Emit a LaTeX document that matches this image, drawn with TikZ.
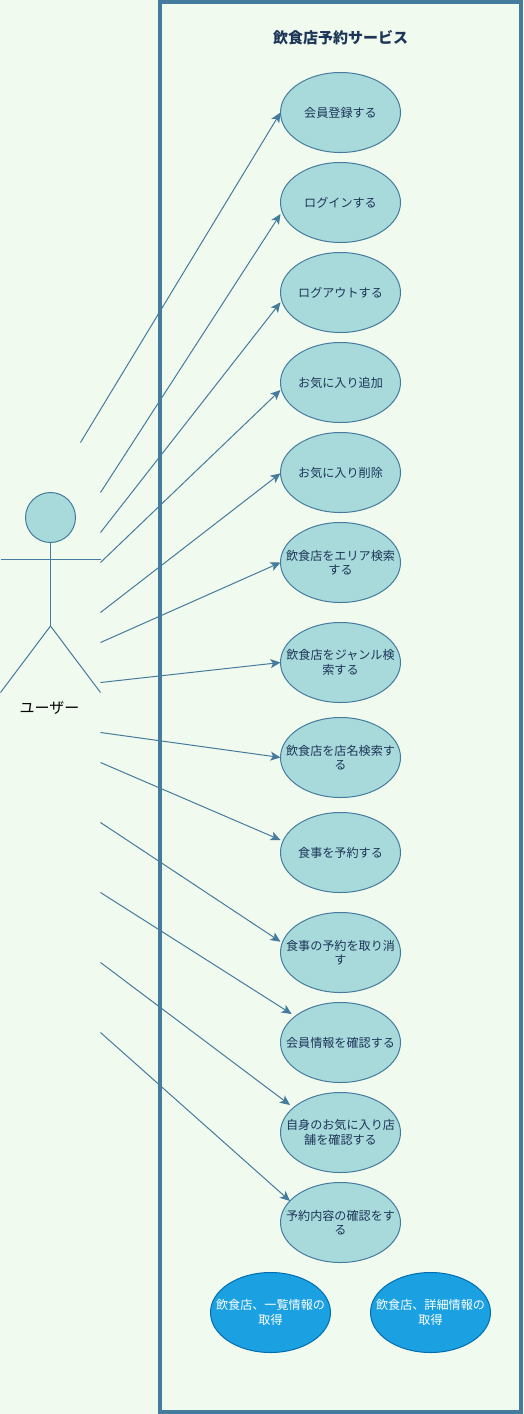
\documentclass[tikz,border=0pt]{standalone}
\usepackage{fontspec}
\setmainfont{Noto Sans CJK JP}
\usetikzlibrary{shapes.geometric,arrows.meta}
\definecolor{bgc}{HTML}{F1FAEE}
\definecolor{stk}{HTML}{457B9D}
\definecolor{fil}{HTML}{A8DADC}
\definecolor{txt}{HTML}{1D3557}
\definecolor{bfil}{HTML}{1BA1E2}
\definecolor{bstk}{HTML}{006EAF}
\tikzset{
  ucbase/.style={ellipse,inner sep=0pt,outer sep=0pt,minimum width=120pt,minimum height=80pt,line width=1pt},
  uc/.style={ucbase,draw=stk,fill=fil,label={[uctext]center:#1}},
  bluc/.style={ucbase,draw=bstk,fill=bfil,label={[uctext,text=white]center:#1}},
  uctext/.style={align=center,inner sep=0pt,text=txt,font=\fontsize{12.1}{14.4}\selectfont},
  conn/.style={draw=stk,line width=1pt,-{Stealth[length=10pt,width=9pt,inset=2.5pt]}},
  limb/.style={draw=stk,line width=1pt},
}
\begin{document}
\begin{tikzpicture}[x=1pt,y=-1pt]
\useasboundingbox (0,0) rectangle (523,1414);
\fill[bgc] (0,0) rectangle (523,1414);
\node[draw=stk,line width=4pt,fill=bgc,inner sep=0pt,outer sep=0pt,minimum width=361pt,minimum height=1410pt,anchor=north west] (frame) at (160,2) {};
\node[font=\fontsize{15}{17}\selectfont\bfseries,text=txt,inner sep=0pt] (title) at (340.5,37.4) {飲食店予約サービス};
% use cases
\node[uc={会員登録する}] (e1) at (340.5,112.5) {};
\node[uc={ログインする}] (e2) at (340.5,202.5) {};
\node[uc={ログアウトする}] (e3) at (340.5,292.5) {};
\node[uc={お気に入り追加}] (e4) at (340.5,382.5) {};
\node[uc={お気に入り削除}] (e5) at (340.5,472.5) {};
\node[uc={飲食店をエリア検索\\する}] (e6) at (340.5,562.5) {};
\node[uc={飲食店をジャンル検\\索する}] (e7) at (340.5,662.5) {};
\node[uc={飲食店を店名検索す\\る}] (e8) at (340.5,757.5) {};
\node[uc={食事を予約する}] (e9) at (340.5,852.5) {};
\node[uc={食事の予約を取り消\\す}] (e10) at (340.5,952.5) {};
\node[uc={会員情報を確認する}] (e11) at (340.5,1042.5) {};
\node[uc={自身のお気に入り店\\舗を確認する}] (e12) at (340.5,1132.5) {};
\node[uc={予約内容の確認をす\\る}] (e13) at (340.5,1222.5) {};
\node[bluc={飲食店、一覧情報の\\取得}] (b1) at (270.5,1312.5) {};
\node[bluc={飲食店、詳細情報の\\取得}] (b2) at (430.5,1312.5) {};
% actor
\node[circle,draw=stk,fill=fil,line width=1pt,minimum size=50pt,inner sep=0pt,outer sep=0pt] (head) at (50.5,517.5) {};
\coordinate (armL) at (0.5,559.5);
\coordinate (armR) at (100.5,559.5);
\coordinate (hip) at (50.5,626);
\coordinate (footL) at (0.5,692.5);
\coordinate (footR) at (100.5,692.5);
\draw[limb] (head.south) -- (hip);
\draw[limb] (armL) -- (armR);
\draw[limb] (footL) -- (hip) -- (footR);
\node[font=\fontsize{15}{17}\selectfont,text=black,inner sep=0pt] (actor) at (49.5,707.6) {ユーザー};
% connector free ends
\coordinate (s1) at (80.5,442.5);
\coordinate (s2) at (100.5,492.5);
\coordinate (s3) at (100.5,532.5);
\coordinate (s4) at (100.5,562.5);
\coordinate (s5) at (100.5,612.5);
\coordinate (s6) at (100.5,642.5);
\coordinate (s7) at (100.5,682.5);
\coordinate (s8) at (100.5,732.5);
\coordinate (s9) at (100.5,762.5);
\coordinate (s10) at (100.5,822.5);
\coordinate (s11) at (100.5,892.5);
\coordinate (s12) at (100.5,962.5);
\coordinate (s13) at (100.5,1032.5);
\draw[conn] (s1) -- (e1.west);
\draw[conn] (s2) -- ([yshift=-11.5pt]e2.west);
\draw[conn] (s3) -- ([yshift=-9.8pt]e3.west);
\draw[conn] (s4) -- ([yshift=-7.5pt]e4.west);
\draw[conn] (s5) -- ([yshift=-0.8pt]e5.west);
\draw[conn] (s6) -- (e6.west);
\draw[conn] (s7) -- (e7.west);
\draw[conn] (s8) -- (e8.west);
\draw[conn] (s9) -- ([yshift=12.5pt]e9.west);
\draw[conn] (s10) -- ([yshift=10.8pt]e10.west);
\draw[conn] (s11) -- ([xshift=-48.8pt,yshift=28.5pt]e11.center);
\draw[conn] (s12) -- ([xshift=-50.5pt,yshift=27.5pt]e12.center);
\draw[conn] (s13) -- ([xshift=-50.5pt,yshift=21.5pt]e13.center);
\end{tikzpicture}
\end{document}
